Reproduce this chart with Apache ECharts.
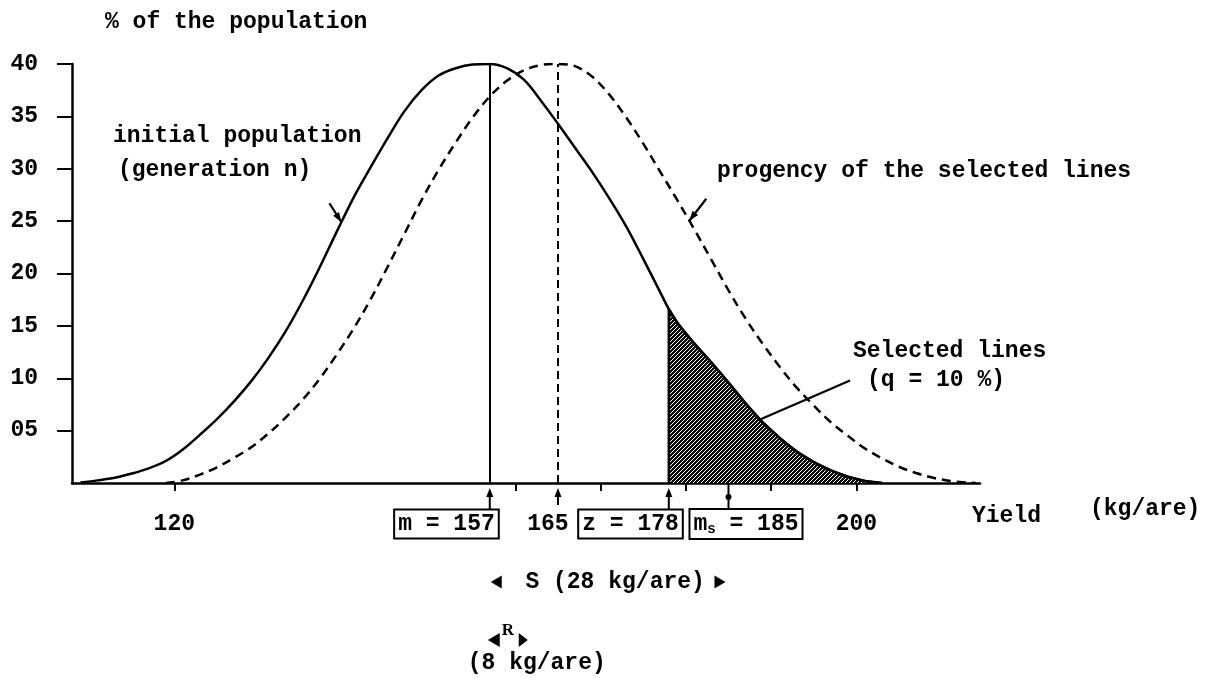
<!DOCTYPE html>
<html>
<head>
<meta charset="utf-8">
<script src="https://cdn.jsdelivr.net/npm/echarts@6/dist/echarts.min.js"></script>
<style>
  html, body { margin: 0; padding: 0; background: #fff; }
  #chart { width: 1212px; height: 698px; }
</style>
</head>
<body>
<div id="chart"></div>
<script>
// Yield (kg/are) against share of the population (%), before and after selection.

// Initial population (generation n): [yield, %]
const initialPopulation = [
  [109, 0.05], [111, 0.25], [113, 0.5], [115, 0.9], [117, 1.4], [119, 2.1], [121, 3.2],
  [123, 4.6], [125, 6.1], [127, 7.8], [129, 9.7], [131, 11.9], [133, 14.4], [135, 17.3],
  [137, 20.5], [139, 23.9], [141, 27.2], [143, 30.1], [145, 32.9], [147, 35.5], [149, 37.5],
  [151, 38.9], [153, 39.6], [155, 39.95], [157, 40], [159, 39.6], [161, 38.5], [163, 36.5],
  [165, 34.3], [167, 32.0], [169, 29.7], [171, 27.2], [173, 24.5], [175, 21.4], [177, 18.2],
  [178, 16.6], [179, 15.3], [181, 13.3], [183, 11.5], [185, 9.6], [187, 7.6], [189, 5.8],
  [191, 4.3], [193, 3.0], [195, 2.0], [197, 1.2], [199, 0.6], [201, 0.2], [203, 0]
];

// Progeny of the selected lines: [yield, %]
const progeny = [
  [119, 0], [121, 0.25], [123, 0.8], [125, 1.5], [127, 2.4], [129, 3.4], [131, 4.7],
  [133, 6.2], [135, 7.9], [137, 9.9], [139, 12.2], [141, 14.7], [143, 17.5], [145, 20.6],
  [147, 23.8], [149, 27.0], [151, 29.9], [153, 32.5], [155, 34.9], [157, 36.9], [159, 38.4],
  [161, 39.4], [163, 39.9], [165, 40], [167, 39.8], [169, 38.8], [171, 37.1], [173, 34.9],
  [175, 32.4], [177, 29.7], [179, 27.0], [181, 24.2], [183, 21.3], [185, 18.4], [187, 15.7],
  [189, 13.3], [191, 11.1], [193, 9.1], [195, 7.4], [197, 5.8], [199, 4.5], [201, 3.3],
  [203, 2.35], [205, 1.55], [207, 0.95], [209, 0.5], [211, 0.2], [213, 0.05], [214, 0]
];

// Key yields
const meanInitial = 157;     // m
const meanProgeny = 165;
const truncationPoint = 178; // z
const meanSelected = 185;    // m_s

// Axis ticks and labels
const yTickValues = [5, 10, 15, 20, 25, 30, 35, 40];
const yTickLabels = ['05', '10', '15', '20', '25', '30', '35', '40'];
const xTickValues = [120, 160, 170, 180, 190, 200];
const xLabelValues = [120, 165, 200];

// Texts
const yTitle = '% of the population';
const xTitle = 'Yield';
const xUnit = '(kg/are)';
const initialLabel = ['initial population', '(generation n)'];
const progenyLabel = 'progency of the selected lines';
const selectedLabel = ['Selected lines', '(q = 10 %)'];
const selectionDiffLabel = 'S (28 kg/are)';
const responseLabel = 'R';
const responseUnit = '(8 kg/are)';

// Selected tail of the initial population (yield >= z), closed down to the axis at z
const selectedTail = [[truncationPoint, 0]].concat(
  initialPopulation.filter(p => p[0] >= truncationPoint)
);

const FONT_FAMILY = '"Liberation Mono", "DejaVu Sans Mono", monospace';
const FONT_SIZE = 23;
const FONT = 'bold ' + FONT_SIZE + 'px ' + FONT_FAMILY;
const INK = '#000';

function valueAt(series, x) {
  for (let i = 1; i < series.length; i++) {
    const a = series[i - 1], b = series[i];
    if (x >= a[0] && x <= b[0]) {
      return a[1] + (b[1] - a[1]) * (x - a[0]) / (b[0] - a[0]);
    }
  }
  return 0;
}

// Diagonal hatching for the selected area
function hatchPattern() {
  const c = document.createElement('canvas');
  c.width = 8; c.height = 8;
  const g = c.getContext('2d');
  g.fillStyle = '#0a0a0a';
  g.fillRect(0, 0, 8, 8);
  g.strokeStyle = '#fff';
  g.lineWidth = 1;
  for (let k = -8; k <= 8; k += 4) {
    g.beginPath();
    g.moveTo(k, 8);
    g.lineTo(k + 8, 0);
    g.stroke();
  }
  return c;
}

function arrowHead(tip, from, len, half) {
  const dx = tip[0] - from[0], dy = tip[1] - from[1];
  const d = Math.sqrt(dx * dx + dy * dy) || 1;
  const ux = dx / d, uy = dy / d;
  const bx = tip[0] - ux * len, by = tip[1] - uy * len;
  return {
    type: 'polygon',
    shape: { points: [tip, [bx - uy * half, by + ux * half], [bx + uy * half, by - ux * half]] },
    style: { fill: INK }
  };
}

function pointer(tip, dx, dy, head) {
  const from = [tip[0] + dx, tip[1] + dy];
  const out = [{
    type: 'line',
    shape: { x1: from[0], y1: from[1], x2: tip[0], y2: tip[1] },
    style: { stroke: INK, lineWidth: 2.2 }
  }];
  if (head) out.push(arrowHead(tip, from, 10, 3.5));
  return out;
}

function boxText(text, x, y, align, rich) {
  return {
    type: 'text',
    style: {
      text: text, x: x, y: y, align: align, verticalAlign: 'middle',
      font: FONT, fill: INK,
      borderColor: INK, borderWidth: 2, backgroundColor: '#fff',
      padding: [2, 3, 2, 3],
      rich: rich
    }
  };
}

function leftTriangle(x, y, w, h) {
  return { type: 'polygon', shape: { points: [[x, y], [x + w, y - h / 2], [x + w, y + h / 2]] }, style: { fill: INK } };
}
function rightTriangle(x, y, w, h) {
  return { type: 'polygon', shape: { points: [[x, y], [x - w, y - h / 2], [x - w, y + h / 2]] }, style: { fill: INK } };
}

function renderNotes(params, api) {
  const y0 = api.coord([meanInitial, 0])[1];
  const xm = api.coord([meanInitial, 0])[0];
  const xp = api.coord([meanProgeny, 0])[0];
  const xz = api.coord([truncationPoint, 0])[0];
  const xs = api.coord([meanSelected, 0])[0];
  const kids = [];

  // upward arrows below the axis
  [[xm, 27], [xp, 22], [xz, 27]].forEach(([x, len]) => {
    kids.push({ type: 'line', shape: { x1: x, y1: y0 + 10, x2: x, y2: y0 + len },
      style: { stroke: INK, lineWidth: 2 } });
    kids.push({ type: 'polygon', shape: { points: [[x, y0 + 5], [x - 3.5, y0 + 14], [x + 3.5, y0 + 14]] },
      style: { fill: INK } });
  });
  // m_s stem with dot
  kids.push({ type: 'line', shape: { x1: xs, y1: y0, x2: xs, y2: y0 + 27 },
    style: { stroke: INK, lineWidth: 2 } });
  kids.push({ type: 'circle', shape: { cx: xs, cy: y0 + 14, r: 3 }, style: { fill: INK } });

  // boxed values
  const by = y0 + 41;
  kids.push(boxText('m = ' + meanInitial, xm + 8, by, 'right'));
  kids.push(boxText('z = ' + truncationPoint, xz + 13, by, 'right'));
  kids.push(boxText('{a|m}{s|s}{a| = ' + meanSelected + '}', xs - 38, by, 'left', {
    a: { font: FONT, fill: INK, lineHeight: 24 },
    s: { font: 'bold 14px ' + FONT_FAMILY, fill: INK, verticalAlign: 'bottom', lineHeight: 14 }
  }));

  // selection differential S
  const sy = y0 + 99;
  kids.push(leftTriangle(xm + 1, sy, 11, 13));
  kids.push(rightTriangle(xs - 3, sy, 11, 13));
  kids.push({ type: 'text', style: { text: selectionDiffLabel, x: (xm + xs) / 2 + 6, y: sy,
    align: 'center', verticalAlign: 'middle', font: FONT, fill: INK } });

  // response R
  const ry = y0 + 157;
  kids.push(leftTriangle(xm - 2, ry, 12, 14));
  kids.push(rightTriangle(xm + 38, ry, 9, 14));
  kids.push({ type: 'text', style: { text: responseLabel, x: xm + 18, y: ry - 9,
    align: 'center', verticalAlign: 'middle', font: 'bold 17px "Liberation Serif", serif', fill: INK } });
  kids.push({ type: 'text', style: { text: responseUnit, x: xm + 47, y: y0 + 180,
    align: 'center', verticalAlign: 'middle', font: FONT, fill: INK } });

  // pointers to the curves
  const tipInit = api.coord([139.6, valueAt(initialPopulation, 139.6)]);
  pointer(tipInit, -12, -19, true).forEach(e => kids.push(e));
  const tipProg = api.coord([180.4, valueAt(progeny, 180.4)]);
  pointer(tipProg, 17, -22, true).forEach(e => kids.push(e));
  const tipSel = api.coord([188.7, valueAt(initialPopulation, 188.7)]);
  pointer(tipSel, 90, -39, false).forEach(e => kids.push(e));

  return { type: 'group', children: kids };
}

function plainText(text, left, top) {
  return { type: 'text', left: left, top: top, style: { text: text, font: FONT, fill: INK } };
}

const chart = echarts.init(document.getElementById('chart'), null, { renderer: 'canvas' });

chart.setOption({
  animation: false,
  backgroundColor: '#fff',
  grid: { left: 72, right: 232, top: 64, bottom: 215, containLabel: false, outerBoundsMode: 'none' },
  xAxis: {
    type: 'value', min: 108, max: 214.5,
    splitLine: { show: false },
    axisLine: { onZero: false, lineStyle: { color: INK, width: 2.5 } },
    axisTick: { show: true, inside: false, length: 8, customValues: xTickValues,
      lineStyle: { color: INK, width: 2 } },
    axisLabel: {
      customValues: xLabelValues, margin: 30, color: INK,
      fontFamily: FONT_FAMILY, fontSize: FONT_SIZE, fontWeight: 'bold',
      formatter: v => v === meanProgeny ? '{shift|' + v + '}' : String(v),
      rich: { shift: { padding: [0, 20, 0, 0], fontFamily: FONT_FAMILY, fontSize: FONT_SIZE, fontWeight: 'bold', color: INK } }
    }
  },
  yAxis: {
    type: 'value', min: 0, max: 40, interval: 5,
    splitLine: { show: false },
    axisLine: { show: true, lineStyle: { color: INK, width: 2.5 } },
    axisTick: { show: true, inside: false, length: 15, customValues: yTickValues,
      lineStyle: { color: INK, width: 2 } },
    axisLabel: {
      customValues: yTickValues, margin: 34, color: INK,
      fontFamily: FONT_FAMILY, fontSize: FONT_SIZE, fontWeight: 'bold',
      formatter: v => yTickLabels[yTickValues.indexOf(v)] || ''
    }
  },
  graphic: [
    plainText(yTitle, 105, 11),
    plainText(initialLabel[0], 113, 125),
    plainText(initialLabel[1], 118, 159),
    plainText(progenyLabel, 717, 160),
    plainText(selectedLabel[0], 853, 340),
    plainText(selectedLabel[1], 867, 369),
    plainText(xTitle, 972, 505),
    plainText(xUnit, 1090, 498)
  ],
  series: [
    {
      name: 'selected', type: 'line', data: selectedTail, smooth: false,
      symbol: 'none', lineStyle: { color: INK, width: 2.5 },
      areaStyle: { color: { image: hatchPattern(), repeat: 'repeat' }, opacity: 1 },
      z: 2
    },
    {
      name: 'initial', type: 'line', data: initialPopulation, smooth: 0.35,
      symbol: 'none', lineStyle: { color: INK, width: 2.5 },
      markLine: {
        silent: true, symbol: 'none', label: { show: false },
        lineStyle: { color: INK, width: 2, type: 'solid' },
        data: [[{ coord: [meanInitial, 0] }, { coord: [meanInitial, 40] }]]
      },
      z: 3
    },
    {
      name: 'progeny', type: 'line', data: progeny, smooth: 0.35,
      symbol: 'none', lineStyle: { color: INK, width: 2.5, type: [9, 6] },
      markLine: {
        silent: true, symbol: 'none', label: { show: false },
        lineStyle: { color: INK, width: 2, type: [8, 5] },
        data: [[{ coord: [meanProgeny, 0] }, { coord: [meanProgeny, 40] }]]
      },
      z: 3
    },
    {
      name: 'notes', type: 'custom', clip: false, silent: true,
      data: [[meanInitial, 0]],
      renderItem: renderNotes,
      z: 4
    }
  ]
});
</script>
</body>
</html>
